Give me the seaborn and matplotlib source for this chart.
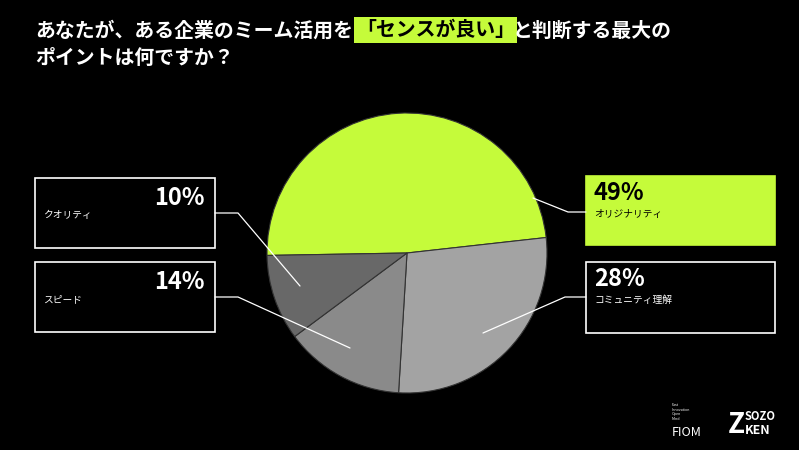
import matplotlib
matplotlib.use("Agg")
import matplotlib.pyplot as plt
import seaborn as sns
from matplotlib.patches import Rectangle

sns.set_theme(style="white")
plt.rcParams['font.family'] = ['Noto Sans CJK JP', 'DejaVu Sans']

categories = ["オリジナリティ", "コミュニティ理解", "スピード", "クオリティ"]
values = [49, 28, 14, 10]
colors = ["#c5fb3a", "#a3a3a3", "#8a8a8a", "#686868"]

W, H = 799, 450
fig = plt.figure(figsize=(W/100, H/100), dpi=100, facecolor="black")

def fx(x): return x / W
def fy(y): return 1 - y / H

ax = fig.add_axes([fx(267), fy(393), 280/W, 280/H])
ax.pie(values, colors=colors, startangle=181, counterclock=False, radius=1,
       wedgeprops=dict(edgecolor="#333333", linewidth=0.8))
ax.set_xlim(-1, 1)
ax.set_ylim(-1, 1)
ax.set_aspect("equal")
ax.axis("off")

# title
fs = 14.3
tkw = dict(color="white", fontsize=fs, fontweight="bold", va="center", ha="left")
fig.text(fx(35), fy(30), "あなたが、ある企業のミーム活用を", **tkw)
fig.text(fx(356), fy(30), "「センスが良い」", color="black", fontsize=fs, fontweight="bold",
         va="center", ha="left",
         bbox=dict(boxstyle="square,pad=0.12", facecolor="#c5fb3a", edgecolor="none"))
fig.text(fx(512), fy(30), "と判断する最大の", **tkw)
fig.text(fx(35), fy(57), "ポイントは何ですか？", **tkw)

boxes = {
    "クオリティ": (35, 178, 215, 248, False, "right", [(215, 213), (238, 213), (300, 286)]),
    "スピード": (35, 262, 215, 332, False, "right", [(215, 297), (238, 297), (350, 348)]),
    "オリジナリティ": (586, 176, 775, 245, True, "left", [(586, 212), (568, 212), (533, 198)]),
    "コミュニティ理解": (586, 262, 775, 333, False, "left", [(586, 297), (565, 297), (483, 333)]),
}
for cat, val in zip(categories, values):
    x0, y0, x1, y1, filled, al, pts = boxes[cat]
    fig.patches.append(Rectangle((fx(x0), fy(y1)), (x1 - x0)/W, (y1 - y0)/H,
                                 transform=fig.transFigure,
                                 facecolor="#c5fb3a" if filled else "black",
                                 edgecolor="white" if not filled else "#c5fb3a",
                                 linewidth=1.2, zorder=1))
    tc = "black" if filled else "white"
    if al == "right":
        fig.text(fx(x1 - 10), fy(y0 + 20), f"{val}%", color=tc, fontsize=17,
                 fontweight="bold", ha="right", va="center")
    else:
        fig.text(fx(x0 + 8), fy(y0 + 17), f"{val}%", color=tc, fontsize=17,
                 fontweight="bold", ha="left", va="center")
    fig.text(fx(x0 + 8), fy(y0 + 38 if al == "left" else y0 + 37), cat, color=tc,
             fontsize=7, ha="left", va="center")
    xs = [fx(p[0]) for p in pts]
    ys = [fy(p[1]) for p in pts]
    fig.add_artist(plt.Line2D(xs, ys, color="white", linewidth=0.9,
                              transform=fig.transFigure))

# logos
fig.text(fx(672), fy(412), "Fast\nInnovation\nOpen\nMind", color="white", fontsize=2.6,
         ha="left", va="center", linespacing=1.2)
fig.text(fx(672), fy(433), "FIOM", color="white", fontsize=9, ha="left", va="center")
fig.text(fx(728), fy(425), "Z", color="white", fontsize=20, fontweight="bold",
         ha="left", va="center")
fig.text(fx(745), fy(416), "SOZO", color="white", fontsize=8, fontweight="bold",
         ha="left", va="center")
fig.text(fx(745), fy(430), "KEN", color="white", fontsize=9, fontweight="bold",
         ha="left", va="center")

fig.savefig("out.png", dpi=100, facecolor="black")
